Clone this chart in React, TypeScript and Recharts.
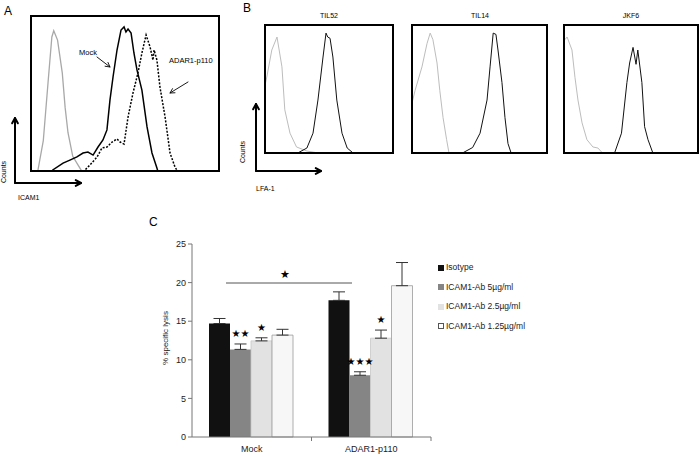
import { LineChart, Line, XAxis, YAxis, BarChart, Bar, ErrorBar, LabelList } from 'recharts'

// Panel A – ICAM1 histograms (channel %, counts % of box)
const isoA = [[4, 0], [7, 20], [9.5, 57], [11.5, 86], [12.5, 90], [14.5, 84], [17, 63], [18.5, 41], [20, 25], [22.5, 10], [27, 1], [29, 0]]
const mockA = [[11.5, 0], [12, 1.3], [17.4, 5.7], [21, 7.6], [24.7, 9.6], [27.9, 12.1], [30.5, 12.7], [33.2, 10.8], [35.8, 15.9], [38.4, 20.4], [40.5, 26.8], [42.1, 45.9], [43.7, 60.5], [45.8, 77.7], [47.9, 90.4], [49.5, 92.4], [50.5, 89.2], [51.6, 91.1], [53.2, 88.5], [54.7, 75.8], [56.3, 65], [58.9, 52.2], [61.6, 28.7], [64.2, 12.1], [66.8, 2.5], [67.4, 0]]
const adarA = [[27.9, 0], [31.6, 4.5], [35.3, 9.6], [37.9, 15.3], [40.5, 15.9], [43.2, 19.1], [45.8, 21], [47.4, 19.1], [49.5, 17.8], [51.6, 35], [54.2, 50.3], [56.8, 63], [58.9, 75.8], [61.1, 87.3], [63.2, 79.6], [64.7, 71.3], [65.3, 77.7], [66.8, 71.3], [68.4, 54.1], [71.1, 35], [73.7, 12.1], [76.3, 3.2], [77.9, 0]]

// Panel B – LFA-1 histograms
const isoTIL52 = [[0, 49], [2.3, 60], [6, 80], [10, 90], [13.8, 67], [16, 34], [20, 16], [25, 5.4], [33, 2.3], [41.5, 0.8]]
const lfaTIL52 = [[26, 0.8], [33, 4.6], [37.7, 16], [41.5, 41.5], [45.4, 74.6], [47.7, 93], [49, 90], [50.8, 89], [53, 74.6], [56, 41.5], [60, 16], [64, 4.6], [68.5, 0.8]]
const isoTIL14 = [[0, 36], [3, 49], [8, 67], [11.7, 85], [14, 93], [16, 88], [19, 70], [21, 49], [23.4, 28], [26, 11], [27.7, 1]]
const lfaTIL14 = [[38, 1], [45, 5], [50.4, 16], [55.5, 41.5], [57.7, 67], [60, 93], [62, 92], [63.5, 80], [66.4, 55], [68.6, 28], [70.8, 8], [73, 1]]
const isoJKF6 = [[1.5, 88], [3, 90], [6.6, 80], [8.8, 59], [11, 41.5], [14, 24], [17.6, 11], [22, 5.4], [25.7, 4.6], [29, 0.8]]
const lfaJKF6 = [[38, 1], [43, 16], [47, 55], [49, 70], [51.5, 82], [53.7, 69], [55, 80], [58, 55], [60, 21], [62.5, 11], [66, 1]]

// Panel C – % specific lysis
const groups = ['Mock', 'ADAR1-p110']
const isotype = [14.7, 17.7]
const isotypeErr = [0.65, 1.1]
const ab5 = [11.35, 8.0]
const ab5Err = [0.7, 0.45]
const ab25 = [12.45, 12.8]
const ab25Err = [0.4, 1.05]
const ab125 = [13.2, 19.6]
const ab125Err = [0.75, 3.0]
const ab5Sig = ['★★', '★★★']
const ab25Sig = ['★', '★']

const FONT = '"Liberation Sans", Arial, sans-serif'
const STAR_FONT = '"DejaVu Sans", sans-serif'

const toPts = (arr: number[][]) => arr.map(([x, y]) => ({ x, y }))

const barData = groups.map((g, i) => ({
  name: g,
  iso: isotype[i], isoErr: [0, isotypeErr[i]],
  a5: ab5[i], a5Err: [0, ab5Err[i]], a5Sig: ab5Sig[i],
  a25: ab25[i], a25Err: [0, ab25Err[i]], a25Sig: ab25Sig[i],
  a125: ab125[i], a125Err: [0, ab125Err[i]],
}))

const legendItems = [
  { label: 'Isotype', fill: '#111111', stroke: '#111111' },
  { label: 'ICAM1-Ab 5µg/ml', fill: '#858585', stroke: '#858585' },
  { label: 'ICAM1-Ab 2.5µg/ml', fill: '#e2e2e2', stroke: '#e2e2e2' },
  { label: 'ICAM1-Ab 1.25µg/ml', fill: '#ffffff', stroke: '#555555' },
]

type Curve = { data: number[][]; color: string; width: number; dash?: string }

function Histo({ left, top, width, height, curves }: { left: number; top: number; width: number; height: number; curves: Curve[] }) {
  return (
    <div style={{ position: 'absolute', left, top, width, height }}>
      <LineChart width={width} height={height} margin={{ top: 0, right: 0, bottom: 0, left: 0 }}>
        <XAxis type="number" dataKey="x" domain={[0, 100]} hide />
        <YAxis type="number" domain={[0, 100]} hide />
        {curves.map((c, i) => (
          <Line key={i} data={toPts(c.data)} dataKey="y" type="linear" stroke={c.color} strokeWidth={c.width}
            strokeDasharray={c.dash} dot={false} isAnimationActive={false} />
        ))}
      </LineChart>
      <div style={{ position: 'absolute', left: 0, top: 0, width, height, border: '2px solid #000', boxSizing: 'border-box' }} />
    </div>
  )
}

// plot area of panel C inside its chart: top 14 (25) .. bottom 207 (0)
const SigLabel = (props: any) => {
  const { x, width, value, index, errs, vals } = props
  if (!value) return null
  const v = vals[index] + errs[index]
  const yErrTop = 207 - (v / 25) * 193
  return (
    <text x={x + width / 2} y={yErrTop - 7} textAnchor="middle" fontSize={10} fontFamily={STAR_FONT} fill="#000">
      {value}
    </text>
  )
}

const CatTick = (props: any) => {
  const { x, y, payload } = props
  return (
    <g>
      <line x1={x + 59.75} x2={x + 59.75} y1={y - 8} y2={y - 4} stroke="#777" />
      <text x={x} y={y + 7} textAnchor="middle" fontSize={9} fontFamily={FONT} fill="#222">{payload.value}</text>
    </g>
  )
}

function Arrow({ x1, y1, x2, y2, w = 1, head = 5 }: { x1: number; y1: number; x2: number; y2: number; w?: number; head?: number }) {
  const a = Math.atan2(y2 - y1, x2 - x1)
  const p1 = [x2 - head * Math.cos(a - 0.5), y2 - head * Math.sin(a - 0.5)]
  const p2 = [x2 - head * Math.cos(a + 0.5), y2 - head * Math.sin(a + 0.5)]
  return (
    <g stroke="#000" strokeWidth={w} fill="none" strokeLinecap="round" strokeLinejoin="round">
      <line x1={x1} y1={y1} x2={x2} y2={y2} />
      <polyline points={`${p1[0]},${p1[1]} ${x2},${y2} ${p2[0]},${p2[1]}`} />
    </g>
  )
}

export default function App() {
  return (
    <div style={{ position: 'absolute', left: 0, top: 0, width: 700, height: 457, background: '#fff', overflow: 'hidden', fontFamily: FONT }}>
      {/* A */}
      <Histo left={30} top={15} width={190} height={157} curves={[
        { data: isoA, color: '#a8a8a8', width: 1.3 },
        { data: mockA, color: '#000', width: 1.5 },
        { data: adarA, color: '#000', width: 1.5, dash: '2 1.5' },
      ]} />

      {/* B */}
      <Histo left={264} top={24} width={130} height={130} curves={[
        { data: isoTIL52, color: '#bdbdbd', width: 1 },
        { data: lfaTIL52, color: '#111', width: 1 },
      ]} />
      <Histo left={411} top={24} width={137} height={130} curves={[
        { data: isoTIL14, color: '#bdbdbd', width: 1 },
        { data: lfaTIL14, color: '#111', width: 1 },
      ]} />
      <Histo left={563} top={24} width={136} height={130} curves={[
        { data: isoJKF6, color: '#bdbdbd', width: 1 },
        { data: lfaJKF6, color: '#111', width: 1 },
      ]} />

      {/* C */}
      <div style={{ position: 'absolute', left: 140, top: 230 }}>
        <BarChart width={300} height={225} data={barData} margin={{ top: 14, right: 9, bottom: 3, left: 22 }}
          barCategoryGap={17} barGap={0}>
          <XAxis dataKey="name" axisLine={{ stroke: '#777' }} tickLine={false} height={15} tick={<CatTick />} interval={0} />
          <YAxis domain={[0, 25]} ticks={[0, 5, 10, 15, 20, 25]} width={30} axisLine={{ stroke: '#777' }}
            tickLine={{ stroke: '#777' }} tickSize={4} tick={{ fontSize: 9, fill: '#222', fontFamily: FONT }} />
          <Bar dataKey="iso" fill="#111111" isAnimationActive={false}>
            <ErrorBar dataKey="isoErr" width={6} stroke="#333" strokeWidth={1} direction="y" />
          </Bar>
          <Bar dataKey="a5" fill="#858585" isAnimationActive={false}>
            <ErrorBar dataKey="a5Err" width={6} stroke="#333" strokeWidth={1} direction="y" />
            <LabelList dataKey="a5Sig" content={<SigLabel vals={ab5} errs={ab5Err} />} />
          </Bar>
          <Bar dataKey="a25" fill="#e2e2e2" stroke="#c8c8c8" strokeWidth={0.8} isAnimationActive={false}>
            <ErrorBar dataKey="a25Err" width={6} stroke="#333" strokeWidth={1} direction="y" />
            <LabelList dataKey="a25Sig" content={<SigLabel vals={ab25} errs={ab25Err} />} />
          </Bar>
          <Bar dataKey="a125" fill="#f7f7f7" stroke="#9a9a9a" strokeWidth={0.8} isAnimationActive={false}>
            <ErrorBar dataKey="a125Err" width={6} stroke="#333" strokeWidth={1} direction="y" />
          </Bar>
        </BarChart>
      </div>

      {/* legend C */}
      <div style={{ position: 'absolute', left: 438, top: 258, fontSize: 8.5, color: '#222', lineHeight: '19.5px' }}>
        {legendItems.map(it => (
          <div key={it.label} style={{ display: 'flex', alignItems: 'center', height: 19.5 }}>
            <span style={{ display: 'inline-block', width: 4, height: 4, background: it.fill, border: `1px solid ${it.stroke}`, marginRight: 2 }} />
            <span>{it.label}</span>
          </div>
        ))}
      </div>

      {/* annotations */}
      <svg width={700} height={457} style={{ position: 'absolute', left: 0, top: 0, pointerEvents: 'none' }}>
        <g fontFamily={FONT} fill="#000">
          <text x={4} y={15} fontSize={12}>A</text>
          <text x={243} y={12} fontSize={12}>B</text>
          <text x={149} y={226} fontSize={12}>C</text>
          <text x={79} y={55} fontSize={7.5}>Mock</text>
          <text x={169} y={63} fontSize={7.5}>ADAR1-p110</text>
          <text x={18} y={200} fontSize={7}>ICAM1</text>
          <text x={256} y={191} fontSize={7}>LFA-1</text>
          <text transform="translate(6,172) rotate(-90)" textAnchor="middle" fontSize={7}>Counts</text>
          <text transform="translate(245,152) rotate(-90)" textAnchor="middle" fontSize={7}>Counts</text>
          <text x={329} y={18} textAnchor="middle" fontSize={7}>TIL52</text>
          <text x={480} y={18} textAnchor="middle" fontSize={7}>TIL14</text>
          <text x={631} y={18} textAnchor="middle" fontSize={7}>JKF6</text>
          <text transform="translate(168,338) rotate(-90)" textAnchor="middle" fontSize={8} fill="#222">% specific lysis</text>
          <text x={285} y={278} textAnchor="middle" fontSize={11} fontFamily={STAR_FONT}>★</text>
        </g>
        <line x1={226} y1={283} x2={352} y2={283} stroke="#555" strokeWidth={1} />
        <Arrow x1={15} y1={183} x2={15} y2={118} w={2} head={6} />
        <Arrow x1={15} y1={183} x2={81} y2={183} w={2} head={6} />
        <Arrow x1={256} y1={171} x2={256} y2={104} w={2} head={6} />
        <Arrow x1={256} y1={171} x2={321} y2={171} w={2} head={6} />
        <Arrow x1={97} y1={57} x2={110} y2={67} w={0.9} head={5} />
        <Arrow x1={188} y1={82} x2={170} y2={93} w={0.9} head={5} />
      </svg>
    </div>
  )
}
